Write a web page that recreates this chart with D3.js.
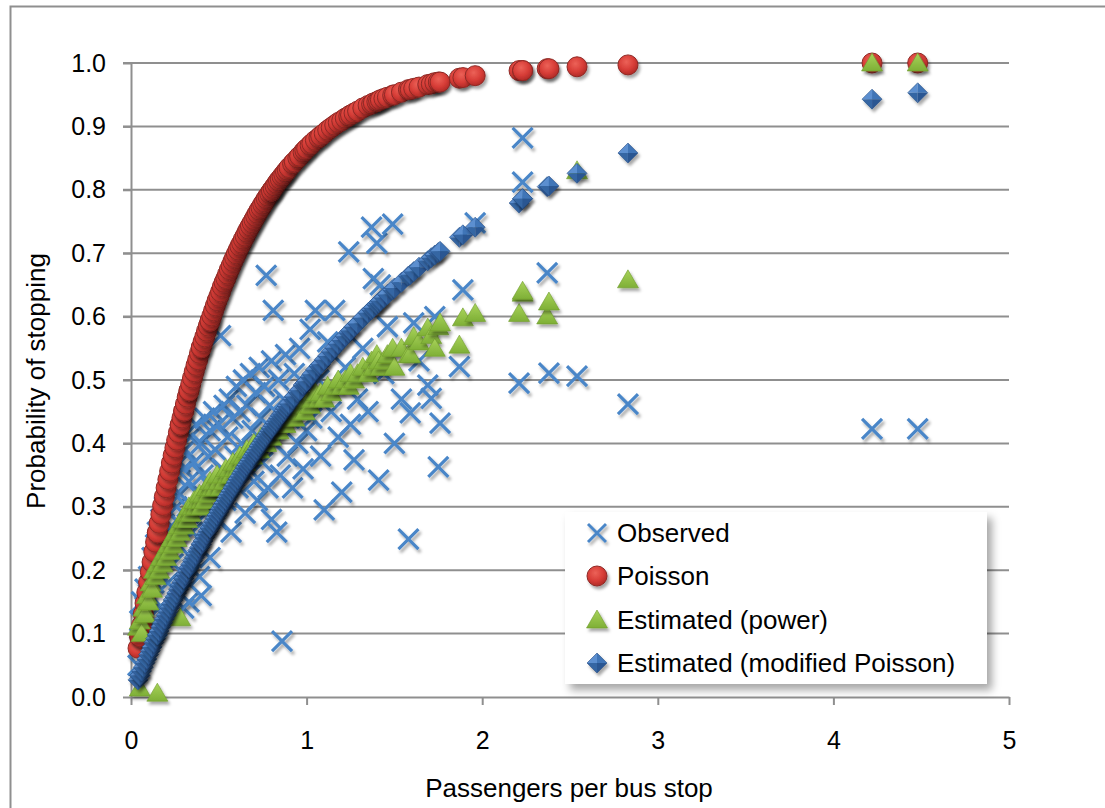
<!DOCTYPE html>
<html>
<head>
<meta charset="utf-8">
<script src="https://cdn.jsdelivr.net/npm/d3@7"></script>
<style>
  body { margin: 0; background: #fff; }
  svg { display: block; }
</style>
</head>
<body>
<div id="chart"></div>
<script>
// Passengers per bus stop vs probability of stopping
// one entry per stop: x value shared by the four series

const stopX = [
  0.04, 0.05, 0.05, 0.06, 0.07, 0.08, 0.09, 0.10, 0.11, 0.12,
  0.13, 0.14, 0.15, 0.15, 0.16, 0.17, 0.18, 0.19, 0.20, 0.21,
  0.22, 0.23, 0.24, 0.25, 0.26, 0.27, 0.28, 0.28, 0.29, 0.30,
  0.30, 0.31, 0.32, 0.33, 0.33, 0.34, 0.35, 0.36, 0.37, 0.38,
  0.39, 0.40, 0.40, 0.41, 0.42, 0.43, 0.44, 0.45, 0.45, 0.46,
  0.47, 0.48, 0.49, 0.50, 0.51, 0.52, 0.53, 0.54, 0.55, 0.56,
  0.57, 0.58, 0.59, 0.60, 0.61, 0.62, 0.63, 0.64, 0.65, 0.66,
  0.67, 0.68, 0.69, 0.70, 0.71, 0.72, 0.73, 0.74, 0.75, 0.76,
  0.77, 0.78, 0.79, 0.80, 0.80, 0.81, 0.82, 0.83, 0.84, 0.85,
  0.86, 0.87, 0.88, 0.89, 0.90, 0.92, 0.93, 0.95, 0.96, 0.98,
  0.99, 1.00, 1.02, 1.03, 1.05, 1.07, 1.08, 1.10, 1.12, 1.14,
  1.16, 1.18, 1.20, 1.22, 1.24, 1.25, 1.27, 1.29, 1.32, 1.35,
  1.37, 1.38, 1.40, 1.41, 1.42, 1.44, 1.46, 1.49, 1.50, 1.54,
  1.58, 1.59, 1.61, 1.64, 1.69, 1.71, 1.73, 1.75, 1.76, 1.87,
  1.89, 1.96, 2.21, 2.23, 2.23, 2.37, 2.38, 2.54, 2.83, 4.22,
  4.48
];

const observed = [
  0.05, 0.12, 0.08, 0.15, 0.10, 0.17, 0.13, 0.19, 0.16, 0.22,
  0.18, 0.24, 0.20, 0.26, 0.14, 0.28, 0.22, 0.30, 0.25, 0.18,
  0.33, 0.27, 0.21, 0.35, 0.30, 0.24, 0.37, 0.32, 0.27, 0.36,
  0.14, 0.39, 0.30, 0.15, 0.34, 0.41, 0.26, 0.37, 0.43, 0.32,
  0.19, 0.40, 0.16, 0.35, 0.44, 0.29, 0.38, 0.42, 0.22, 0.33,
  0.45, 0.39, 0.28, 0.43, 0.57, 0.36, 0.46, 0.31, 0.41, 0.47,
  0.26, 0.44, 0.38, 0.49, 0.33, 0.45, 0.40, 0.50, 0.29, 0.46,
  0.36, 0.51, 0.42, 0.34, 0.48, 0.31, 0.52, 0.44, 0.37, 0.49,
  0.665, 0.33, 0.46, 0.28, 0.53, 0.61, 0.40, 0.26, 0.50, 0.35,
  0.088, 0.47, 0.54, 0.38, 0.44, 0.33, 0.51, 0.40, 0.55, 0.36,
  0.47, 0.42, 0.58, 0.44, 0.61, 0.50, 0.38, 0.295, 0.56, 0.45,
  0.61, 0.41, 0.323, 0.52, 0.702, 0.43, 0.374, 0.47, 0.55, 0.45,
  0.741, 0.66, 0.716, 0.342, 0.65, 0.51, 0.584, 0.746, 0.40, 0.47,
  0.249, 0.448, 0.59, 0.53, 0.492, 0.471, 0.60, 0.363, 0.432, 0.521,
  0.642, 0.748, 0.495, 0.882, 0.812, 0.669, 0.511, 0.506, 0.462, 0.423,
  0.423
];

const poisson = [
  0.077, 0.095, 0.095, 0.113, 0.131, 0.148, 0.165, 0.181, 0.197, 0.213,
  0.229, 0.244, 0.259, 0.259, 0.274, 0.288, 0.302, 0.316, 0.330, 0.343,
  0.356, 0.369, 0.381, 0.393, 0.405, 0.417, 0.429, 0.429, 0.440, 0.451,
  0.451, 0.462, 0.473, 0.483, 0.483, 0.493, 0.503, 0.513, 0.523, 0.532,
  0.542, 0.551, 0.551, 0.560, 0.568, 0.577, 0.585, 0.593, 0.593, 0.601,
  0.609, 0.617, 0.625, 0.632, 0.639, 0.647, 0.654, 0.660, 0.667, 0.674,
  0.680, 0.687, 0.693, 0.699, 0.705, 0.711, 0.716, 0.722, 0.727, 0.733,
  0.738, 0.743, 0.748, 0.753, 0.758, 0.763, 0.768, 0.772, 0.777, 0.781,
  0.786, 0.790, 0.794, 0.798, 0.798, 0.802, 0.806, 0.810, 0.814, 0.817,
  0.821, 0.824, 0.828, 0.831, 0.835, 0.841, 0.844, 0.850, 0.853, 0.859,
  0.862, 0.865, 0.870, 0.873, 0.878, 0.882, 0.885, 0.889, 0.894, 0.898,
  0.902, 0.906, 0.909, 0.913, 0.916, 0.918, 0.921, 0.924, 0.929, 0.933,
  0.935, 0.937, 0.939, 0.940, 0.942, 0.944, 0.946, 0.949, 0.950, 0.954,
  0.958, 0.958, 0.960, 0.962, 0.966, 0.967, 0.969, 0.970, 0.970, 0.976,
  0.977, 0.980, 0.988, 0.988, 0.988, 0.991, 0.991, 0.994, 0.997, 1.000,
  1.000
];

const powerEst = [
  0.11, 0.014, 0.12, 0.10, 0.14, 0.13, 0.16, 0.15, 0.18, 0.17,
  0.20, 0.19, 0.006, 0.21, 0.20, 0.22, 0.21, 0.23, 0.22, 0.24,
  0.23, 0.25, 0.24, 0.26, 0.25, 0.27, 0.125, 0.26, 0.28, 0.27,
  0.28, 0.29, 0.28, 0.29, 0.30, 0.29, 0.30, 0.31, 0.30, 0.31,
  0.32, 0.31, 0.30, 0.32, 0.31, 0.33, 0.32, 0.33, 0.34, 0.33,
  0.34, 0.33, 0.35, 0.34, 0.33, 0.35, 0.34, 0.36, 0.35, 0.36,
  0.35, 0.37, 0.36, 0.37, 0.36, 0.38, 0.37, 0.38, 0.37, 0.39,
  0.38, 0.39, 0.38, 0.40, 0.39, 0.40, 0.39, 0.41, 0.40, 0.41,
  0.40, 0.42, 0.41, 0.42, 0.41, 0.43, 0.42, 0.43, 0.42, 0.44,
  0.43, 0.44, 0.43, 0.45, 0.44, 0.45, 0.44, 0.46, 0.45, 0.46,
  0.45, 0.47, 0.46, 0.47, 0.48, 0.47, 0.48, 0.47, 0.49, 0.48,
  0.49, 0.50, 0.49, 0.50, 0.49, 0.51, 0.50, 0.51, 0.52, 0.51,
  0.53, 0.52, 0.54, 0.53, 0.52, 0.53, 0.54, 0.55, 0.52, 0.55,
  0.54, 0.54, 0.568, 0.56, 0.582, 0.57, 0.55, 0.584, 0.59, 0.555,
  0.598, 0.605, 0.605, 0.637, 0.64, 0.601, 0.623, 0.83, 0.658, 1.000,
  1.000
];

const modPoisson = [
  0.027, 0.034, 0.034, 0.041, 0.047, 0.054, 0.060, 0.067, 0.073, 0.079,
  0.086, 0.092, 0.098, 0.098, 0.104, 0.111, 0.117, 0.123, 0.129, 0.135,
  0.141, 0.147, 0.153, 0.158, 0.164, 0.170, 0.176, 0.176, 0.181, 0.187,
  0.187, 0.193, 0.198, 0.204, 0.204, 0.209, 0.215, 0.220, 0.225, 0.231,
  0.236, 0.241, 0.241, 0.246, 0.252, 0.257, 0.262, 0.267, 0.267, 0.272,
  0.277, 0.282, 0.287, 0.292, 0.297, 0.301, 0.306, 0.311, 0.316, 0.320,
  0.325, 0.330, 0.334, 0.339, 0.344, 0.348, 0.353, 0.357, 0.362, 0.366,
  0.370, 0.374, 0.379, 0.383, 0.387, 0.391, 0.396, 0.400, 0.404, 0.408,
  0.412, 0.416, 0.420, 0.424, 0.424, 0.428, 0.432, 0.436, 0.440, 0.444,
  0.447, 0.451, 0.455, 0.459, 0.463, 0.470, 0.474, 0.481, 0.484, 0.492,
  0.495, 0.498, 0.505, 0.509, 0.516, 0.522, 0.525, 0.532, 0.538, 0.545,
  0.551, 0.557, 0.563, 0.569, 0.575, 0.578, 0.584, 0.589, 0.598, 0.606,
  0.611, 0.614, 0.619, 0.622, 0.625, 0.630, 0.635, 0.642, 0.645, 0.654,
  0.664, 0.666, 0.671, 0.678, 0.688, 0.693, 0.697, 0.701, 0.703, 0.725,
  0.729, 0.741, 0.779, 0.786, 0.786, 0.805, 0.806, 0.826, 0.858, 0.943,
  0.953
];

const xTicks = [0, 1, 2, 3, 4, 5];
const yTicks = [0, 0.1, 0.2, 0.3, 0.4, 0.5, 0.6, 0.7, 0.8, 0.9, 1.0];
const seriesNames = ['Observed', 'Poisson', 'Estimated (power)', 'Estimated (modified Poisson)'];

const W = 1105, H = 808;
const font = "'Liberation Sans', Arial, Helvetica, sans-serif";
const gridColor = '#8f8f8f';

const svg = d3.select('#chart').append('svg')
  .attr('width', W)
  .attr('height', H)
  .style('font-family', font);

const x = d3.scaleLinear().domain([0, 5]).range([131, 1009]);
const y = d3.scaleLinear().domain([0, 1]).range([697, 63]);

// ---- defs: shadows and marker fills
const defs = svg.append('defs');

const shadow = defs.append('filter').attr('id', 'shadow')
  .attr('x', '-60%').attr('y', '-60%').attr('width', '220%').attr('height', '220%');
shadow.append('feDropShadow')
  .attr('dx', 2).attr('dy', 3).attr('stdDeviation', 1.8)
  .attr('flood-color', '#000').attr('flood-opacity', 0.35);

const legendShadow = defs.append('filter').attr('id', 'legendShadow')
  .attr('x', '-10%').attr('y', '-10%').attr('width', '130%').attr('height', '140%');
legendShadow.append('feDropShadow')
  .attr('dx', 5).attr('dy', 6).attr('stdDeviation', 4)
  .attr('flood-color', '#000').attr('flood-opacity', 0.35);

const redBall = defs.append('radialGradient').attr('id', 'redBall')
  .attr('cx', '42%').attr('cy', '35%').attr('r', '65%');
redBall.append('stop').attr('offset', '0%').attr('stop-color', '#ec6258');
redBall.append('stop').attr('offset', '60%').attr('stop-color', '#d73d37');
redBall.append('stop').attr('offset', '100%').attr('stop-color', '#b12b27');

const greenTri = defs.append('linearGradient').attr('id', 'greenTri')
  .attr('x1', 0).attr('y1', 0).attr('x2', 0).attr('y2', 1);
greenTri.append('stop').attr('offset', '0%').attr('stop-color', '#a8d35a');
greenTri.append('stop').attr('offset', '100%').attr('stop-color', '#7eaf36');

// ---- outer frame
svg.append('rect')
  .attr('x', 10.5).attr('y', 6.5)
  .attr('width', 1200).attr('height', 900)
  .attr('fill', 'none')
  .attr('stroke', gridColor)
  .attr('stroke-width', 2);

// ---- gridlines
svg.append('g').attr('class', 'grid')
  .selectAll('line')
  .data(yTicks.filter(d => d > 0))
  .join('line')
  .attr('x1', x(0) - 8).attr('x2', x(5))
  .attr('y1', d => y(d)).attr('y2', d => y(d))
  .attr('stroke', gridColor)
  .attr('stroke-width', 2);

// ---- axes
const yAxis = svg.append('g')
  .attr('transform', `translate(${x(0)},0)`)
  .call(d3.axisLeft(y).tickValues(yTicks).tickFormat(d3.format('.1f'))
    .tickSize(8).tickSizeOuter(0).tickPadding(17));

const xAxis = svg.append('g')
  .attr('transform', `translate(0,${y(0)})`)
  .call(d3.axisBottom(x).tickValues(xTicks).tickFormat(d3.format('d'))
    .tickSize(8).tickSizeOuter(0).tickPadding(26));

[yAxis, xAxis].forEach(ax => {
  ax.select('.domain').attr('stroke', gridColor).attr('stroke-width', 2);
  ax.selectAll('.tick line').attr('stroke', gridColor).attr('stroke-width', 2);
  ax.selectAll('.tick text')
    .attr('fill', '#000')
    .attr('font-size', 25)
    .attr('font-family', font);
});

svg.append('text')
  .attr('x', 569).attr('y', 797)
  .attr('text-anchor', 'middle')
  .attr('font-size', 26)
  .text('Passengers per bus stop');

svg.append('text')
  .attr('transform', 'translate(45,381) rotate(-90)')
  .attr('text-anchor', 'middle')
  .attr('font-size', 26)
  .text('Probability of stopping');

// ---- marker shapes
const markers = {
  cross(g) {
    g.append('path')
      .attr('d', 'M-10,-10L10,10M-10,10L10,-10')
      .attr('fill', 'none')
      .attr('stroke', '#4a86c8')
      .attr('stroke-width', 3.2);
  },
  circle(g) {
    g.append('circle')
      .attr('r', 10)
      .attr('fill', 'url(#redBall)')
      .attr('stroke', '#8e2925')
      .attr('stroke-width', 1);
  },
  triangle(g) {
    g.append('path')
      .attr('d', 'M0,-10L10.5,8L-10.5,8Z')
      .attr('fill', 'url(#greenTri)')
      .attr('stroke', '#6e9a2e')
      .attr('stroke-width', 0.6);
  },
  diamond(g) {
    // four facets give the pyramid look
    const facets = [
      ['M0,-10L-10,0L0,0Z', '#5b8fd0'],
      ['M0,-10L10,0L0,0Z', '#3f74b7'],
      ['M10,0L0,10L0,0Z', '#2b5792'],
      ['M-10,0L0,10L0,0Z', '#3666a3']
    ];
    facets.forEach(([d, c]) => g.append('path').attr('d', d).attr('fill', c));
    g.append('path')
      .attr('d', 'M0,-10L10,0L0,10L-10,0Z')
      .attr('fill', 'none')
      .attr('stroke', '#274f86')
      .attr('stroke-width', 0.6);
  }
};

const series = [
  { name: seriesNames[0], values: observed, shape: 'cross' },
  { name: seriesNames[1], values: poisson, shape: 'circle' },
  { name: seriesNames[2], values: powerEst, shape: 'triangle' },
  { name: seriesNames[3], values: modPoisson, shape: 'diamond' }
];

const plot = svg.append('g').attr('class', 'points');

series.forEach(s => {
  const pts = stopX.map((v, i) => ({ x: v, y: s.values[i] }));
  plot.append('g')
    .selectAll('g')
    .data(pts)
    .join('g')
    .attr('transform', d => `translate(${x(d.x)},${y(d.y)})`)
    .attr('filter', 'url(#shadow)')
    .each(function () { markers[s.shape](d3.select(this)); });
});

// ---- legend
const legend = svg.append('g').attr('transform', 'translate(565,512)');

legend.append('rect')
  .attr('width', 422).attr('height', 172)
  .attr('fill', '#fff')
  .attr('filter', 'url(#legendShadow)');

const rowY = [21, 64, 108, 151];

series.forEach((s, i) => {
  const row = legend.append('g').attr('transform', `translate(32,${rowY[i]})`);
  const m = row.append('g')
    .attr('transform', s.shape === 'cross' ? 'scale(0.9)' : null)
    .attr('filter', 'url(#shadow)');
  markers[s.shape](m);
  row.append('text')
    .attr('x', 20)
    .attr('dy', '0.35em')
    .attr('font-size', 26)
    .text(s.name);
});
</script>
</body>
</html>
